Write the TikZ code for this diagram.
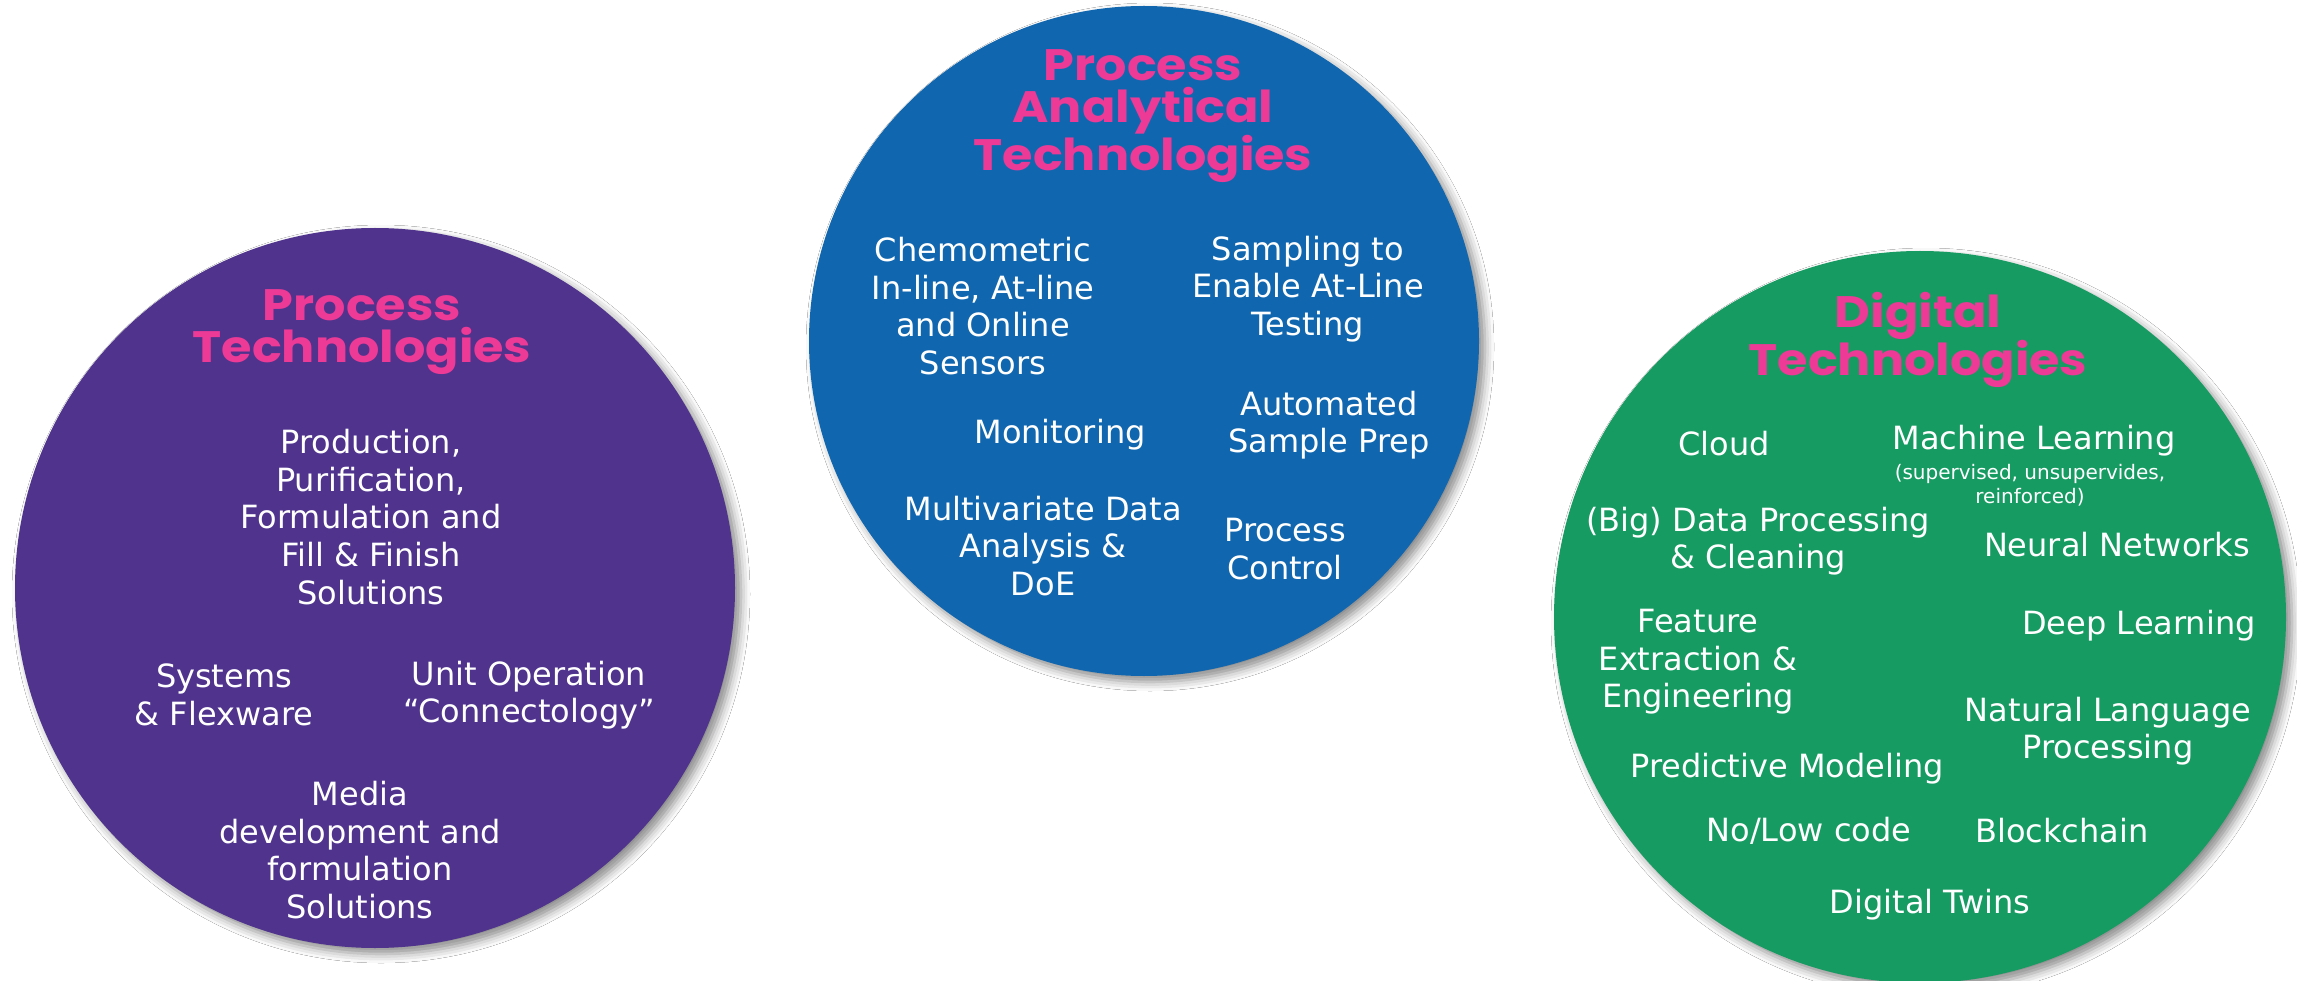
\documentclass[tikz,border=0pt]{standalone}
\usepackage{fontspec}
\setmainfont{DejaVu Sans}
\newfontfamily\titlefont{Poppins}[FakeStretch=1.12]
\usetikzlibrary{shadows.blur}

\definecolor{ptpurple}{RGB}{79,51,141}
\definecolor{patblue}{RGB}{17,103,175}
\definecolor{dtgreen}{RGB}{22,155,98}
\definecolor{titlepink}{RGB}{236,58,150}

\tikzset{
  disc/.style={circle, inner sep=0pt, minimum size=#1,
    blur shadow={shadow xshift=6pt, shadow yshift=-6pt,
                 shadow blur radius=9pt, shadow opacity=45}},
  heading/.style={text=titlepink, inner sep=0pt, align=center,
    font=\titlefont\bfseries\fontsize{44}{42}\selectfont},
  item/.style={text=white, inner sep=0pt, align=center,
    font=\fontsize{32}{37.6}\selectfont},
  note/.style={text=white, inner sep=0pt, align=center,
    font=\fontsize{20}{24}\selectfont},
}

\begin{document}
\begin{tikzpicture}[x=1pt, y=-1pt]
  \fill[white] (0,0) rectangle (2297,981);
  \useasboundingbox (0,0) rectangle (2297,981);

  % the three circles
  \node[disc=720pt, fill=ptpurple] (pt) at (375,588) {};
  \node[disc=670pt, fill=patblue]  (pat) at (1144,341) {};
  \node[disc=732pt, fill=dtgreen]  (dt) at (1920,617) {};

  % Process Technologies
  \node[heading] (pth) at (362,332) {Process\\Technologies};
  \node[item] (pt1) at (371,517) {Production,\\Purification,\\Formulation and\\Fill \& Finish\\Solutions};
  \node[item] (pt2) at (224,695) {Systems\\\& Flexware};
  \node[item] (pt3) at (529,695) {Unit Operation\\“Connectology”};
  \node[item] (pt4) at (360,850) {Media\\development and\\formulation\\Solutions};

  % Process Analytical Technologies
  \node[heading] (path) at (1143,116) {Process\\Analytical\\Technologies};
  \node[item] (pat1) at (983,306) {Chemometric\\In-line, At-line\\and Online\\Sensors};
  \node[item] (pat2) at (1308,289) {Sampling to\\Enable At-Line\\Testing};
  \node[item] (pat3) at (1060,435) {Monitoring};
  \node[item] (pat4) at (1329,425) {Automated\\Sample Prep};
  \node[item] (pat5) at (1043,546) {Multivariate Data\\Analysis \&\\DoE};
  \node[item] (pat6) at (1285,549) {Process\\Control};

  % Digital Technologies
  \node[heading] (dth) at (1918,340) {Digital\\Technologies};
  \node[item] (dt1) at (1724,444) {Cloud};
  \node[item] (dt2) at (2034,441) {Machine Learning};
  \node[note] (dt2n) at (2030,485) {(supervised, unsupervides,\\reinforced)};
  \node[item] (dt3) at (1758,541) {(Big) Data Processing\\\& Cleaning};
  \node[item] (dt4) at (2117,545) {Neural Networks};
  \node[item] (dt5) at (1698,662) {Feature\\Extraction \&\\Engineering};
  \node[item] (dt6) at (2139,626) {Deep Learning};
  \node[item] (dt7) at (2108,731) {Natural Language\\Processing};
  \node[item] (dt8) at (1787,769) {Predictive Modeling};
  \node[item] (dt9) at (1809,831) {No/Low code};
  \node[item] (dt10) at (2062,831) {Blockchain};
  \node[item] (dt11) at (1930,905) {Digital Twins};
\end{tikzpicture}
\end{document}
